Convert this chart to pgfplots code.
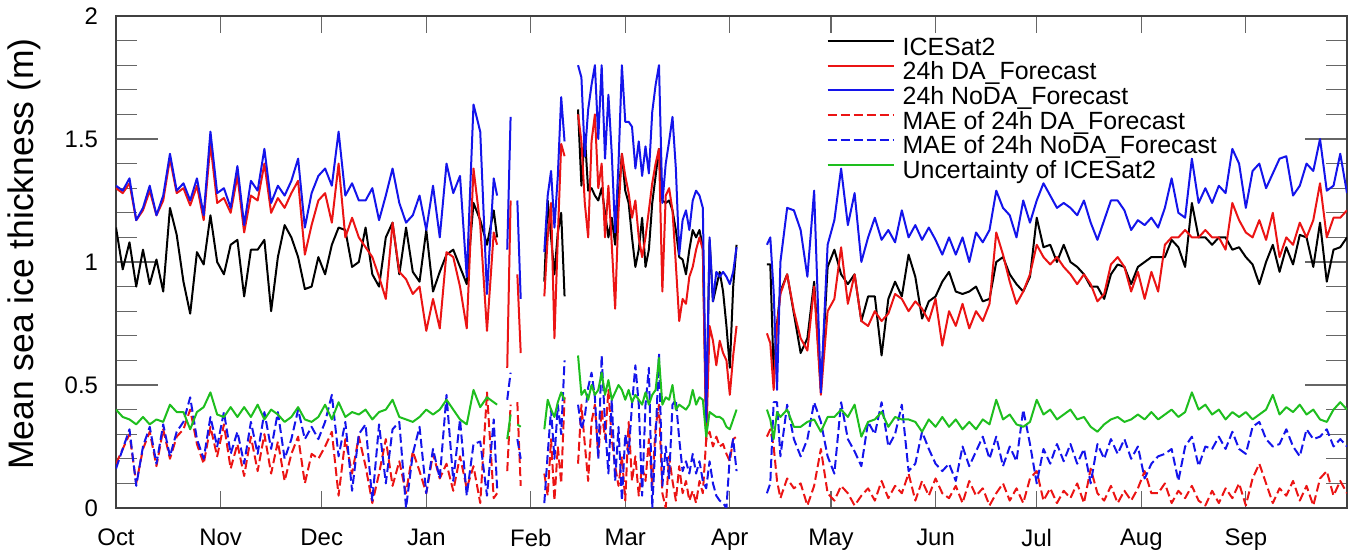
\documentclass[border=0pt]{standalone}
\usepackage{fontspec}
\setmainfont{Liberation Sans}
\usepackage{pgfplots}
\usepackage{pgfplotstable}
\pgfplotsset{compat=1.18}

\definecolor{cred}{RGB}{235,20,20}
\definecolor{cblue}{RGB}{20,20,235}
\definecolor{cgreen}{RGB}{30,190,30}

% day since 1 Oct; ICESat2, DA, NoDA, MAE DA, MAE NoDA, uncertainty
\pgfplotstableread{
d k r b mr mb g
0 1.14 1.30 1.31 0.18 0.16 0.40
2 0.97 1.28 1.29 0.24 0.24 0.37
4 1.08 1.32 1.34 0.30 0.32 0.36
6 0.90 1.17 1.17 0.10 0.09 0.34
8 1.05 1.21 1.22 0.24 0.25 0.37
10 0.91 1.29 1.31 0.31 0.33 0.34
12 1.01 1.19 1.19 0.17 0.18 0.36
14 0.88 1.25 1.27 0.32 0.34 0.35
16 1.22 1.42 1.44 0.20 0.21 0.42
18 1.11 1.28 1.29 0.29 0.31 0.39
20 0.92 1.30 1.32 0.32 0.35 0.39
22 0.79 1.23 1.25 0.40 0.45 0.32
24 1.04 1.31 1.34 0.26 0.28 0.39
26 0.99 1.17 1.19 0.18 0.20 0.41
28 1.19 1.48 1.53 0.33 0.37 0.47
30 1.00 1.24 1.28 0.21 0.25 0.38
32 0.95 1.26 1.30 0.34 0.39 0.37
34 1.07 1.20 1.22 0.16 0.22 0.41
36 1.09 1.35 1.39 0.26 0.31 0.37
38 0.86 1.12 1.15 0.13 0.18 0.41
40 1.05 1.27 1.33 0.29 0.35 0.37
42 1.05 1.25 1.29 0.15 0.22 0.42
44 1.09 1.40 1.46 0.30 0.39 0.36
46 0.80 1.20 1.24 0.14 0.24 0.40
48 1.02 1.26 1.31 0.27 0.39 0.38
50 1.15 1.22 1.27 0.11 0.20 0.35
52 1.10 1.28 1.33 0.22 0.28 0.37
54 1.02 1.33 1.42 0.29 0.40 0.41
56 0.89 1.03 1.14 0.10 0.28 0.36
58 0.90 1.15 1.28 0.22 0.33 0.35
60 1.02 1.25 1.35 0.20 0.28 0.37
62 0.95 1.28 1.38 0.25 0.35 0.42
64 1.07 1.16 1.31 0.31 0.46 0.36
66 1.14 1.40 1.53 0.05 0.21 0.43
68 1.13 1.10 1.27 0.28 0.35 0.37
70 0.98 1.18 1.32 0.14 0.07 0.39
72 1.00 1.10 1.25 0.29 0.30 0.38
74 1.14 1.06 1.25 0.17 0.34 0.40
76 0.95 1.02 1.30 0.02 0.03 0.36
78 0.90 0.94 1.17 0.14 0.34 0.39
80 1.10 0.85 1.27 0.28 0.10 0.40
82 1.16 1.16 1.38 0.09 0.32 0.44
84 0.95 0.96 1.24 0.19 0.35 0.37
86 1.14 0.93 1.16 0.06 0.00 0.36
88 0.96 0.87 1.19 0.23 0.22 0.35
90 0.92 0.90 1.27 0.15 0.33 0.37
92 1.13 0.72 1.13 0.06 0.06 0.40
94 0.88 0.85 1.31 0.22 0.24 0.38
96 0.96 0.73 1.10 0.12 0.12 0.40
98 1.03 1.04 1.40 0.18 0.46 0.44
100 1.05 1.02 1.28 0.07 0.11 0.40
102 0.98 0.90 1.35 0.21 0.36 0.36
104 0.91 0.73 0.94 0.08 0.05 0.34
106 1.24 1.38 1.64 0.17 0.26 0.48
108 1.17 1.15 1.53 0.02 0.27 0.41
110 1.07 0.72 0.87 0.47 0.05 0.45
112 1.21 1.12 1.34 0.04 0.36 0.43
113 1.10 1.07 1.27 0.06 0.08 0.42
114 nan nan nan nan nan nan
116 nan 0.57 1.05 0.15 0.44 0.28
117 nan 1.25 1.59 0.42 0.55 0.38
118 nan nan nan nan nan nan
119 nan 0.95 1.25 0.43 0.28 0.34
120 nan 0.63 0.85 0.09 0.20 0.33
121 nan nan nan nan nan nan
127 0.92 0.86 1.04 0.14 0.02 0.32
128 1.25 1.10 1.27 0.05 0.22 0.44
129 1.10 1.24 1.37 0.28 0.40 0.40
130 0.95 0.69 1.14 0.03 0.20 0.37
131 1.12 1.10 1.35 0.25 0.42 0.43
132 1.20 1.48 1.67 0.10 0.30 0.47
133 0.86 1.43 1.49 0.45 0.60 0.44
135 nan nan nan nan nan nan
137 1.62 1.60 1.80 0.18 0.42 0.62
138 1.31 1.49 1.75 0.42 0.32 0.46
139 1.52 1.24 1.43 0.26 0.37 0.48
140 1.29 1.10 1.62 0.11 0.49 0.44
141 1.30 1.49 1.72 0.35 0.55 0.50
142 1.27 1.60 1.80 0.42 0.45 0.46
143 1.25 1.30 1.50 0.21 0.20 0.48
144 1.30 1.40 1.80 0.40 0.62 0.55
145 1.20 1.10 1.42 0.28 0.34 0.46
146 1.10 1.31 1.68 0.48 0.14 0.52
147 1.18 1.07 1.44 0.28 0.44 0.44
148 1.07 0.81 1.12 0.17 0.11 0.47
149 1.27 1.21 1.40 0.09 0.33 0.50
150 1.44 1.44 1.80 0.21 0.03 0.48
151 1.29 1.35 1.57 0.03 0.30 0.44
152 1.24 1.28 1.57 0.35 0.22 0.48
153 1.10 1.18 1.55 0.11 0.42 0.43
154 0.98 1.25 1.38 0.21 0.58 0.46
155 1.05 1.10 1.49 0.05 0.42 0.44
156 1.18 1.02 1.35 0.17 0.05 0.42
157 0.98 1.10 1.47 0.11 0.42 0.47
158 1.05 1.21 1.36 0.28 0.57 0.42
159 1.24 1.32 1.61 0.09 0.00 0.46
160 1.35 1.40 1.72 0.33 0.28 0.48
161 1.46 1.46 1.80 0.42 0.63 0.61
162 1.25 0.88 1.24 0.06 0.09 0.42
163 1.24 1.27 1.40 0.00 0.25 0.45
164 1.25 1.30 1.49 0.21 0.12 0.44
165 1.21 1.21 1.59 0.11 0.42 0.50
166 1.13 0.99 1.38 0.03 0.44 0.40
167 1.02 0.76 1.03 0.17 0.28 0.42
168 1.01 0.85 1.17 0.06 0.15 0.41
169 0.95 0.83 1.21 0.11 0.19 0.40
170 1.05 0.94 1.13 0.03 0.14 0.42
171 1.13 0.98 1.25 0.07 0.22 0.48
172 1.10 1.05 1.29 0.02 0.14 0.42
173 1.13 1.10 1.27 0.11 0.19 0.45
174 1.06 1.05 1.22 0.06 0.11 0.44
175 0.33 0.27 0.35 0.28 0.08 0.29
176 1.09 0.74 1.10 0.31 0.19 0.39
177 0.84 0.68 0.84 0.25 0.10 0.38
178 0.90 0.58 0.96 0.29 0.05 0.37
179 0.96 0.68 0.94 0.25 0.03 0.37
180 0.88 0.63 0.96 0.26 0.02 0.36
181 0.74 0.60 0.94 0.22 0.00 0.33
182 0.57 0.46 0.91 0.19 0.21 0.32
183 0.90 0.62 0.96 0.28 0.28 0.36
184 1.07 0.74 1.06 0.29 0.15 0.40
189 nan nan nan nan nan nan
193 0.99 0.71 1.07 0.29 0.06 0.40
194 0.99 0.67 1.10 0.32 0.10 0.36
195 0.55 0.48 0.88 0.25 0.43 0.28
196 0.75 0.74 0.48 0.11 0.43 0.39
197 0.88 0.87 1.00 0.04 0.21 0.37
199 0.95 0.95 1.22 0.12 0.42 0.40
201 0.79 0.80 1.21 0.08 0.28 0.33
203 0.63 0.69 1.13 0.10 0.21 0.33
205 0.69 0.64 0.94 0.01 0.28 0.35
207 0.92 0.90 1.29 0.09 0.43 0.36
209 0.48 0.46 0.47 0.24 0.35 0.31
211 0.98 0.80 1.07 0.06 0.21 0.37
213 1.05 0.85 1.17 0.03 0.14 0.37
215 0.95 1.06 1.38 0.09 0.43 0.40
217 0.91 0.83 1.15 0.06 0.28 0.37
219 0.95 0.95 1.28 0.01 0.23 0.42
221 0.76 0.76 1.00 0.05 0.17 0.29
223 0.86 0.74 1.10 0.08 0.35 0.35
225 0.86 0.80 1.18 0.03 0.30 0.36
227 0.62 0.76 1.09 0.11 0.43 0.39
229 0.85 0.79 1.13 0.04 0.25 0.33
231 0.92 0.87 1.08 0.09 0.30 0.37
233 0.86 0.85 1.21 0.06 0.42 0.36
235 1.03 0.80 1.10 0.14 0.15 0.36
237 0.94 0.84 1.15 0.03 0.18 0.35
239 0.77 0.81 1.09 0.11 0.31 0.31
241 0.84 0.76 1.14 0.05 0.24 0.36
243 0.86 0.85 1.09 0.12 0.18 0.33
245 0.92 0.66 1.03 0.06 0.15 0.37
247 0.96 0.80 1.10 0.04 0.18 0.33
249 0.88 0.74 1.03 0.09 0.11 0.36
251 0.87 0.83 1.10 0.02 0.25 0.32
253 0.88 0.73 1.00 0.11 0.17 0.35
255 0.90 0.80 1.12 0.05 0.23 0.32
257 0.84 0.76 1.08 0.08 0.29 0.36
259 0.85 0.83 1.13 0.01 0.20 0.34
261 1.00 1.12 1.29 0.06 0.29 0.44
263 1.02 1.03 1.22 0.10 0.17 0.36
265 0.95 0.92 1.19 0.03 0.25 0.38
267 0.91 0.83 1.10 0.08 0.19 0.34
269 0.88 0.88 1.25 0.02 0.40 0.33
271 0.94 0.95 1.16 0.12 0.26 0.35
273 1.18 1.07 1.25 0.15 0.10 0.44
275 1.06 1.02 1.32 0.03 0.24 0.38
277 1.07 0.99 1.27 0.08 0.18 0.40
279 1.00 1.02 1.22 0.02 0.26 0.36
281 1.07 0.98 1.24 0.07 0.19 0.38
283 1.00 0.95 1.22 0.04 0.26 0.40
285 0.98 0.91 1.19 0.10 0.18 0.36
287 0.95 0.95 1.25 0.02 0.24 0.37
289 0.90 0.91 1.16 0.16 0.10 0.33
291 0.90 0.84 1.09 0.06 0.26 0.31
293 0.85 0.87 1.17 0.03 0.20 0.34
295 0.95 0.99 1.25 0.09 0.28 0.36
297 0.99 1.02 1.25 0.02 0.22 0.37
299 0.98 0.98 1.21 0.07 0.28 0.35
301 0.91 0.88 1.13 0.03 0.20 0.36
303 0.98 0.96 1.17 0.08 0.25 0.38
305 1.00 0.85 1.15 0.15 0.12 0.36
307 1.02 0.96 1.18 0.06 0.18 0.39
309 1.02 0.88 1.14 0.06 0.21 0.36
311 1.02 1.07 1.22 0.10 0.22 0.38
313 1.09 1.10 1.34 0.02 0.24 0.40
315 1.06 1.10 1.20 0.07 0.11 0.37
317 0.98 1.13 1.18 0.04 0.25 0.39
319 1.24 1.10 1.42 0.09 0.29 0.47
321 1.10 1.10 1.24 0.03 0.17 0.40
323 1.10 1.13 1.30 0.01 0.25 0.42
325 1.07 1.10 1.24 0.07 0.24 0.38
327 1.10 1.10 1.31 0.02 0.29 0.40
329 1.10 1.05 1.28 0.08 0.24 0.36
331 1.05 1.24 1.46 0.04 0.31 0.39
333 1.06 1.17 1.40 0.10 0.24 0.37
335 1.02 1.12 1.22 0.01 0.22 0.39
337 0.99 1.10 1.37 0.12 0.33 0.36
339 0.91 1.17 1.40 0.18 0.35 0.38
341 1.00 1.09 1.30 0.10 0.28 0.40
343 1.07 1.20 1.36 0.02 0.25 0.46
345 0.96 1.02 1.42 0.08 0.26 0.38
347 1.06 1.10 1.43 0.05 0.32 0.41
349 0.99 1.07 1.27 0.11 0.25 0.39
351 1.11 1.16 1.31 0.03 0.21 0.42
353 1.10 1.10 1.40 0.09 0.32 0.38
355 0.98 1.17 1.37 0.01 0.28 0.40
357 1.16 1.32 1.50 0.12 0.29 0.36
359 0.92 1.10 1.29 0.15 0.32 0.35
361 1.05 1.18 1.31 0.05 0.25 0.40
363 1.06 1.18 1.44 0.11 0.28 0.43
365 1.10 1.21 1.28 0.06 0.25 0.40
}\data

\begin{document}
\begin{tikzpicture}
\begin{axis}[
    scale only axis,
    width=615.5bp, height=246bp,
    xmin=0, xmax=365,
    ymin=0, ymax=2,
    unbounded coords=jump,
    xtick={0,31,61,92,123,151,182,212,243,273,304,335},
    xticklabels={Oct,Nov,Dec,Jan,Feb,Mar,Apr,May,Jun,Jul,Aug,Sep},
    ytick={0,0.5,1,1.5,2},
    minor y tick num=4,
    tick align=inside,
    xtick pos=both, ytick pos=both,
    xticklabel pos=lower, yticklabel pos=left,
    major tick length=21bp,
    minor tick length=10.5bp,
    xtick style={/pgfplots/major tick length=8.5bp},
    tick style={black!60, line width=0.6bp},
    axis line style={black!75, line width=0.8bp},
    /pgf/number format/assume math mode=true,
    tick label style={font=\fontsize{12}{12}\selectfont, black},
    xticklabel style={yshift=-7bp},
    yticklabel style={xshift=-5.5bp},
    ylabel={Mean sea ice thickness (m)},
    ylabel style={font=\fontsize{17.8}{17.8}\selectfont,
        at={(axis description cs:-0.0745,0.516)}, anchor=center},
    every axis plot/.append style={line width=1bp, line join=round},
    legend cell align=left,
    legend style={draw=none, fill=none, inner sep=0pt,
        at={(0.577,0.958)}, anchor=north west,
        row sep=0pt, column sep=4bp,
        font=\fontsize{12.5}{12.5}\selectfont,
        nodes={inner sep=0pt, text height=9bp, text depth=3.35bp}},
    legend image code/.code={\draw[#1] (0bp,4.2bp) -- (33bp,4.2bp);},
]
\addplot[black] table[x=d, y=k] {\data};
\addlegendentry{ICESat2}
\addplot[cred] table[x=d, y=r] {\data};
\addlegendentry{24h DA\_Forecast}
\addplot[cblue] table[x=d, y=b] {\data};
\addlegendentry{24h NoDA\_Forecast}
\addplot[cred, dash pattern=on 4.5bp off 2bp] table[x=d, y=mr] {\data};
\addlegendentry{MAE of 24h DA\_Forecast}
\addplot[cblue, dash pattern=on 4.5bp off 2bp] table[x=d, y=mb] {\data};
\addlegendentry{MAE of 24h NoDA\_Forecast}
\addplot[cgreen] table[x=d, y=g] {\data};
\addlegendentry{Uncertainty of ICESat2}
\end{axis}
\pgfresetboundingbox
\useasboundingbox (-58bp,-22.5bp) rectangle (618bp,254bp);
\end{tikzpicture}
\end{document}
